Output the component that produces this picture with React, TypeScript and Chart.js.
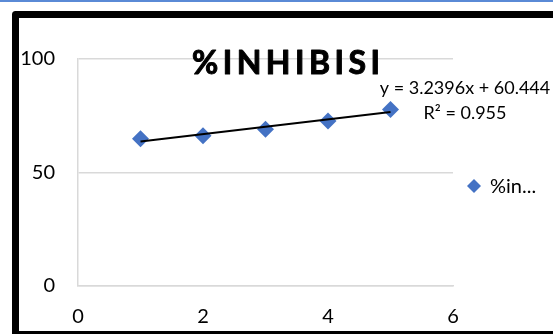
import React, { useEffect, useRef } from "react";
import { Chart, registerables } from "chart.js";

Chart.register(...registerables);

// Concentration steps and measured inhibition (%)
const xValues = [1, 2, 3, 4, 5];
const inhibition = [64.9, 66.2, 69.1, 72.7, 77.8];

// Linear trendline coefficients as printed on the chart
const TREND_SLOPE = 3.2396;
const TREND_INTERCEPT = 60.444;
const TREND_R2 = 0.955;

const xTicks = [0, 2, 4, 6];
const yTicks = [0, 50, 100];

const TITLE = "%INHIBISI";
const SERIES_LABEL = "%in...";

const FONT = "Lato, 'Open Sans', sans-serif";
const BLUE = "#4472C4";

export default function App() {
  const ref = useRef<HTMLCanvasElement | null>(null);

  useEffect(() => {
    const canvas = ref.current;
    if (!canvas) return;

    const trendPoints = [xValues[0], xValues[xValues.length - 1]].map((x) => ({
      x,
      y: TREND_SLOPE * x + TREND_INTERCEPT,
    }));

    const frame = {
      id: "frame",
      beforeDraw(chart: any) {
        const ctx = chart.ctx;
        ctx.save();
        ctx.fillStyle = "#ffffff";
        ctx.fillRect(0, 0, chart.width, chart.height);
        ctx.fillStyle = "#5a8ad6";
        ctx.fillRect(0, 0, chart.width, 2);
        ctx.strokeStyle = "#000000";
        ctx.lineWidth = 7;
        ctx.lineJoin = "round";
        ctx.strokeRect(15.5, 14.5, chart.width + 20, 320);
        ctx.restore();
      },
    };

    const overlay = {
      id: "overlay",
      afterDraw(chart: any) {
        const ctx = chart.ctx;
        ctx.save();

        // Title, spaced out letter by letter and slightly heavier
        ctx.fillStyle = "#000000";
        ctx.strokeStyle = "#000000";
        ctx.lineWidth = 1;
        ctx.lineJoin = "round";
        ctx.font = `bold 32px ${FONT}`;
        ctx.textBaseline = "alphabetic";
        ctx.textAlign = "left";
        const spacing = 4.5;
        const chars = TITLE.split("");
        const widths = chars.map((c) => ctx.measureText(c).width);
        const total = widths.reduce((a, b) => a + b, 0) + spacing * (chars.length - 1);
        let tx = 286 - total / 2;
        chars.forEach((c, i) => {
          ctx.fillText(c, tx, 74);
          ctx.strokeText(c, tx, 74);
          tx += widths[i] + spacing;
        });

        // Trendline equation
        ctx.font = `18px ${FONT}`;
        ctx.textAlign = "center";
        ctx.textBaseline = "middle";
        ctx.fillText(`y = ${TREND_SLOPE}x + ${TREND_INTERCEPT}`, 465, 88);
        ctx.fillText(`R² = ${TREND_R2}`, 465, 113);

        // Legend entry
        const lx = 474;
        const ly = 186;
        const r = 7;
        ctx.fillStyle = BLUE;
        ctx.beginPath();
        ctx.moveTo(lx, ly - r);
        ctx.lineTo(lx + r, ly);
        ctx.lineTo(lx, ly + r);
        ctx.lineTo(lx - r, ly);
        ctx.closePath();
        ctx.fill();
        ctx.fillStyle = "#000000";
        ctx.font = `20px ${FONT}`;
        ctx.textAlign = "left";
        ctx.fillText(SERIES_LABEL, 490, 187);

        ctx.restore();
      },
    };

    const chart = new Chart(canvas, {
      type: "scatter",
      data: {
        datasets: [
          {
            label: "trend",
            type: "line",
            data: trendPoints,
            borderColor: "#000000",
            borderWidth: 2,
            pointRadius: 0,
            fill: false,
            order: 0,
          },
          {
            label: SERIES_LABEL,
            data: xValues.map((x, i) => ({ x, y: inhibition[i] })),
            backgroundColor: BLUE,
            borderColor: BLUE,
            borderWidth: 0,
            pointStyle: "rectRot",
            pointRadius: 8.5,
            order: 1,
          },
        ],
      },
      options: {
        responsive: false,
        animation: false,
        devicePixelRatio: 1,
        layout: { padding: { left: 19, top: 59, right: 100, bottom: 8 } },
        plugins: {
          legend: { display: false },
          title: { display: false },
          tooltip: { enabled: false },
        },
        scales: {
          x: {
            type: "linear",
            min: 0,
            max: 6,
            afterFit(scale: any) {
              scale.height = 40;
            },
            afterBuildTicks(scale: any) {
              scale.ticks = xTicks.map((v) => ({ value: v }));
            },
            grid: { display: false, drawTicks: false },
            border: { display: true, color: "#d9d9d9", width: 1.5 },
            ticks: {
              padding: 19,
              color: "#000000",
              font: { family: FONT, size: 20 },
            },
          },
          y: {
            type: "linear",
            min: 0,
            max: 100,
            afterFit(scale: any) {
              scale.width = 59;
            },
            afterBuildTicks(scale: any) {
              scale.ticks = yTicks.map((v) => ({ value: v }));
            },
            grid: { color: "#d9d9d9", lineWidth: 1.5, drawTicks: false },
            border: { display: true, color: "#d9d9d9", width: 1.5 },
            ticks: {
              padding: 23,
              color: "#000000",
              font: { family: FONT, size: 20 },
            },
          },
        },
      },
      plugins: [frame, overlay],
    });

    return () => chart.destroy();
  }, []);

  return (
    <div style={{ position: "fixed", left: 0, top: 0, width: 553, height: 334 }}>
      <canvas ref={ref} width={553} height={334} style={{ display: "block" }} />
    </div>
  );
}
